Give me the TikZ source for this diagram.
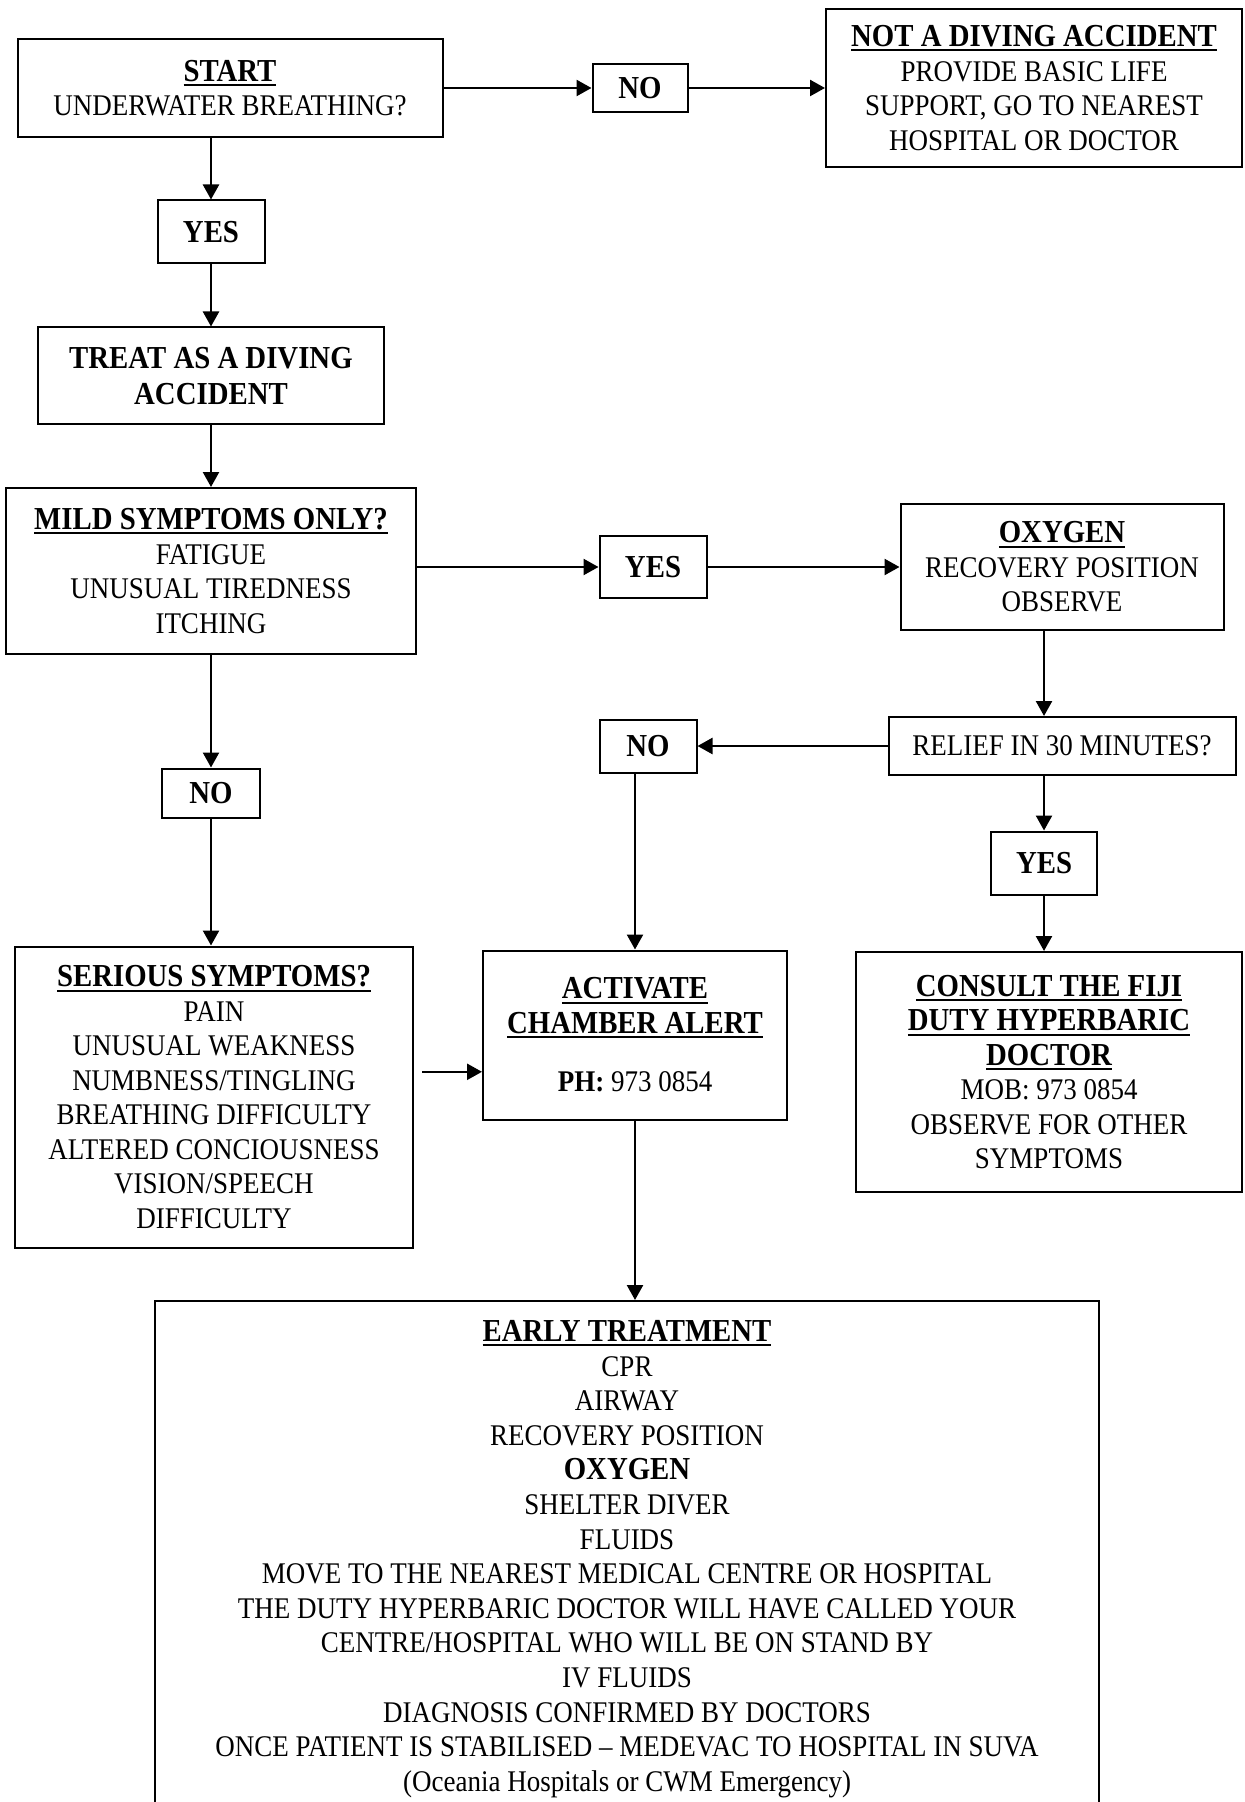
\documentclass[tikz,border=0pt]{standalone}
\usepackage{fontspec}
\setmainfont{Liberation Serif}[FakeStretch=0.9]
\usepackage{tikz}
\usetikzlibrary{arrows.meta,shapes,calc}
\newcommand{\uhead}[1]{{\fontsize{16}{18.4}\selectfont\bfseries\setbox0\hbox{#1}\rlap{\vrule height -1.4pt depth 2.4pt width \wd0}\box0}}
\newcommand{\bhead}[1]{{\fontsize{16}{18.4}\selectfont\bfseries #1}}

\begin{document}
\begin{tikzpicture}
\tikzstyle{main}=[rectangle, draw=black, line width=1pt, node distance=72pt, align=center, inner sep=0pt, font=\fontsize{15}{17.25}\selectfont]
\tikzstyle{answer}=[main, font=\fontsize{16}{18.4}\selectfont\bfseries]
\tikzstyle{connect}=[-{Triangle[length=7.5pt,width=8pt]}, line width=1.2pt]

  \useasboundingbox (0,0) rectangle (622pt,-901pt);

  % left column
  \node[main, minimum width=212.5pt, minimum height=49pt] (start) at (115pt,-44pt) {\uhead{START}\\ UNDERWATER BREATHING?};
  \node[answer, minimum width=53.5pt, minimum height=31.5pt] (yes1) [below of =start, xshift=-9.5] {YES};
  \node[answer, minimum width=173pt, minimum height=48.5pt] (treat) [below of =yes1] {TREAT AS A DIVING\\ ACCIDENT};
  \node[main, minimum width=205pt, minimum height=83pt] (mild) [below of =treat, yshift=-25.5] {\uhead{MILD SYMPTOMS ONLY?}\\ FATIGUE\\ UNUSUAL TIREDNESS\\ ITCHING};
  \node[answer, minimum width=49pt, minimum height=24.5pt] (no3) [below of =mild, yshift=-39] {NO};
  \node[main, minimum width=199pt, minimum height=150.5pt] (serious) [below of =no3, xshift=1.5, yshift=-80] {\uhead{SERIOUS SYMPTOMS?}\\ PAIN\\ UNUSUAL WEAKNESS\\ NUMBNESS/TINGLING\\ BREATHING DIFFICULTY\\ ALTERED CONCIOUSNESS\\ VISION/SPEECH\\ DIFFICULTY};

  % top row
  \node[answer, minimum width=47.5pt, minimum height=24pt] (notop) [right of =start, xshift=133] {NO};
  \node[main, minimum width=208pt, minimum height=79pt] (notdiv) [right of =notop, xshift=125] {\uhead{NOT A DIVING ACCIDENT}\\ PROVIDE BASIC LIFE\\ SUPPORT, GO TO NEAREST\\ HOSPITAL OR DOCTOR};

  % right side
  \node[answer, minimum width=53.5pt, minimum height=31pt] (yes2) [right of =mild, xshift=149, yshift=2] {YES};
  \node[main, minimum width=161.5pt, minimum height=63pt] (oxy) [right of =yes2, xshift=132.5] {\uhead{OXYGEN}\\ RECOVERY POSITION\\ OBSERVE};
  \node[main, minimum width=173.5pt, minimum height=29pt] (relief) [below of =oxy, yshift=-17.5] {RELIEF IN 30 MINUTES?};
  \node[answer, minimum width=48.5pt, minimum height=26.5pt] (no2) [left of =relief, xshift=-135] {NO};
  \node[answer, minimum width=53pt, minimum height=31.5pt] (yes3) [below of =relief, xshift=-9, yshift=13.5] {YES};
  \node[main, minimum width=193pt, minimum height=120pt] (consult) [below of =yes3, xshift=2.5, yshift=-32.5] {\uhead{CONSULT THE FIJI}\\ \uhead{DUTY HYPERBARIC}\\ \uhead{DOCTOR}\\ MOB: 973 0854\\ OBSERVE FOR OTHER\\ SYMPTOMS};
  \node[main, minimum width=152pt, minimum height=84.5pt] (activate) [below of =no2, xshift=-6.5, yshift=-72.5] {\uhead{ACTIVATE}\\ \uhead{CHAMBER ALERT}\\[12pt] \textbf{PH:} 973 0854};

  % bottom box
  \node[main, minimum width=472pt, minimum height=300pt] (early) [below of =activate, anchor=north, xshift=-4, yshift=-60.5] {};
  \node[align=center, inner sep=0pt, anchor=north, font=\fontsize{15}{17.3}\selectfont] (earlytext) at ([yshift=-10pt]early.north) {\uhead{EARLY TREATMENT}\\ CPR\\ AIRWAY\\ RECOVERY POSITION\\ \bhead{OXYGEN}\\ SHELTER DIVER\\ FLUIDS\\ MOVE TO THE NEAREST MEDICAL CENTRE OR HOSPITAL\\ THE DUTY HYPERBARIC DOCTOR WILL HAVE CALLED YOUR\\ CENTRE/HOSPITAL WHO WILL BE ON STAND BY\\ IV FLUIDS\\ DIAGNOSIS CONFIRMED BY DOCTORS\\ ONCE PATIENT IS STABILISED – MEDEVAC TO HOSPITAL IN SUVA\\ (Oceania Hospitals or CWM Emergency)};

  \coordinate (sfrom) at ([xshift=4pt, yshift=12.6pt]serious.east);

  \draw[connect] (start) -- (notop);
  \draw[connect] (notop) -- (notdiv);
  \draw[connect] (start.south -| yes1) -- (yes1);
  \draw[connect] (yes1) -- (treat);
  \draw[connect] (treat) -- (mild);
  \draw[connect] (mild.east |- yes2) -- (yes2);
  \draw[connect] (yes2) -- (oxy);
  \draw[connect] (oxy.south -| yes3) -- (relief.north -| yes3);
  \draw[connect] (relief) -- (no2);
  \draw[connect] (relief.south -| yes3) -- (yes3);
  \draw[connect] (yes3) -- (yes3 |- consult.north);
  \draw[connect] (no2.south -| activate) -- (activate);
  \draw[connect] (mild) -- (no3);
  \draw[connect] (no3) -- (no3 |- serious.north);
  \draw[connect] (sfrom) -- (sfrom -| activate.west);
  \draw[connect] (activate) -- (activate |- early.north);

\end{tikzpicture}
\end{document}
